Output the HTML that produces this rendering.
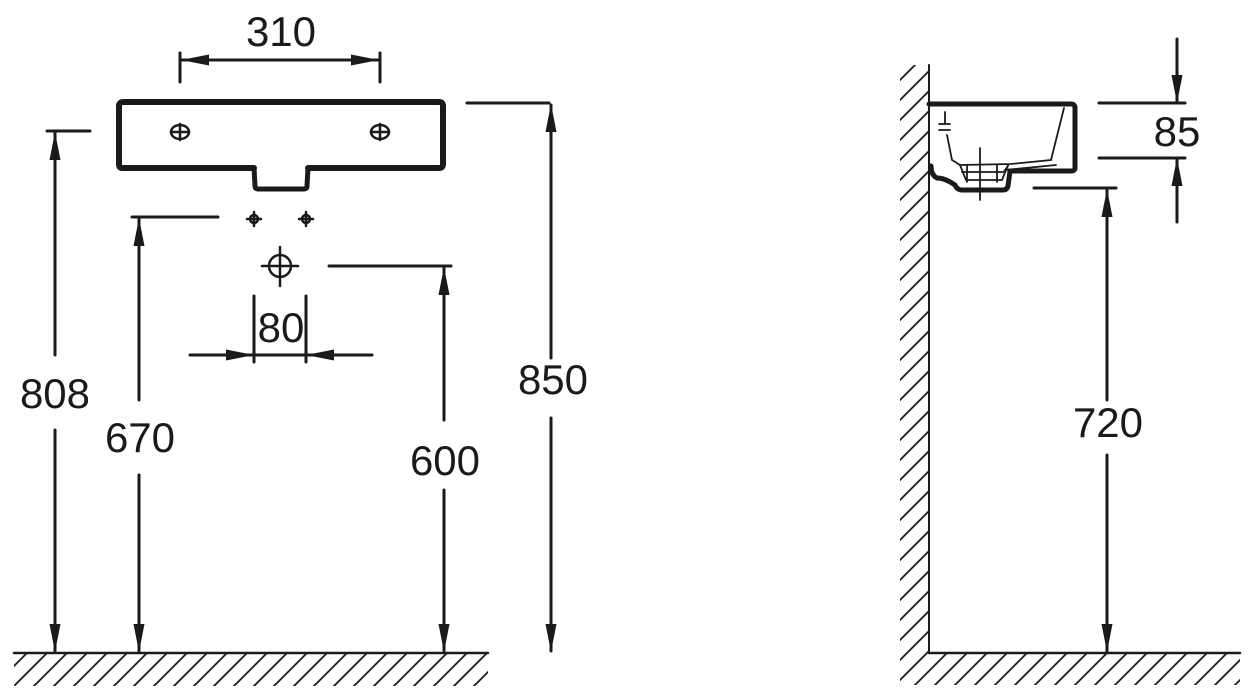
<!DOCTYPE html>
<html><head><meta charset="utf-8"><style>html,body{margin:0;padding:0;background:#fff}svg{display:block}</style></head>
<body>
<svg width="1252" height="699" viewBox="0 0 1252 699" xmlns="http://www.w3.org/2000/svg">
<defs>
<marker id="a" markerWidth="28" markerHeight="11" refX="27" refY="5.5" orient="auto-start-reverse" markerUnits="userSpaceOnUse" viewBox="0 0 28 11"><path d="M0,0 L28,5.5 L0,11 z" fill="#1a1a1a"/></marker>
<pattern id="h" width="20" height="20" patternUnits="userSpaceOnUse"><path d="M-5,25 L25,-5 M-15,15 L15,-15 M5,35 L35,5" stroke="#1a1a1a" stroke-width="1.8"/></pattern>
</defs>
<g stroke="#1a1a1a" fill="none" stroke-linecap="round">
<rect x="14" y="654" width="474" height="32" fill="url(#h)" stroke="none"/>
<line x1="14" y1="653" x2="488" y2="653" stroke-width="2.5"/>
<rect x="900" y="65" width="28" height="620" fill="url(#h)" stroke="none"/>
<rect x="928" y="654" width="312" height="31" fill="url(#h)" stroke="none"/>
<line x1="929" y1="65" x2="929" y2="653" stroke-width="2"/>
<line x1="929" y1="653" x2="1240" y2="653" stroke-width="2.5"/>
<path d="M254,168 L122,168 Q119,168 119,164 L119,106 Q119,102 124,102 L439,102 Q443,102 443,106 L443,164 Q443,168 439,168 L308,168" stroke-width="6"/>
<path d="M254,168 L255,186 Q255,189 258,189 L304,189 Q307,189 307,186 L308,168" stroke-width="5"/>
<g stroke-width="2.5">
<ellipse cx="180" cy="132" rx="9" ry="7"/><line x1="171" y1="132" x2="189" y2="132"/><line x1="180" y1="124" x2="180" y2="140"/>
<ellipse cx="380" cy="132" rx="9" ry="7"/><line x1="371" y1="132" x2="389" y2="132"/><line x1="380" y1="124" x2="380" y2="140"/>
<circle cx="254" cy="219" r="4"/><line x1="247" y1="219" x2="261" y2="219"/><line x1="254" y1="212" x2="254" y2="226"/>
<circle cx="306" cy="219" r="4"/><line x1="299" y1="219" x2="313" y2="219"/><line x1="306" y1="212" x2="306" y2="226"/>
<circle cx="280" cy="266" r="11"/><line x1="262" y1="266" x2="298" y2="266"/><line x1="280" y1="247" x2="280" y2="286"/>
</g>
<g stroke-width="3">
<line x1="180" y1="53" x2="180" y2="82"/><line x1="380" y1="53" x2="380" y2="82"/>
<line x1="182" y1="60" x2="378" y2="60" marker-end="url(#a)" marker-start="url(#a)"/>
<line x1="47" y1="131" x2="90" y2="131"/>
<line x1="55" y1="355" x2="55" y2="133" marker-end="url(#a)"/>
<line x1="55" y1="430" x2="55" y2="651" marker-end="url(#a)"/>
<line x1="132" y1="217" x2="218" y2="217"/>
<line x1="139" y1="400" x2="139" y2="219" marker-end="url(#a)"/>
<line x1="139" y1="475" x2="139" y2="651" marker-end="url(#a)"/>
<line x1="329" y1="266" x2="451" y2="266"/>
<line x1="444" y1="420" x2="444" y2="268" marker-end="url(#a)"/>
<line x1="444" y1="490" x2="444" y2="651" marker-end="url(#a)"/>
<line x1="467" y1="103" x2="549" y2="103"/>
<line x1="551" y1="358" x2="551" y2="105" marker-end="url(#a)"/>
<line x1="551" y1="418" x2="551" y2="651" marker-end="url(#a)"/>
<line x1="254" y1="296" x2="254" y2="362"/><line x1="306" y1="296" x2="306" y2="362"/>
<line x1="190" y1="355" x2="253" y2="355" marker-end="url(#a)"/>
<line x1="372" y1="355" x2="307" y2="355" marker-end="url(#a)"/>
<line x1="254" y1="355" x2="306" y2="355"/>
<line x1="1099" y1="103" x2="1185" y2="103"/>
<line x1="1099" y1="158" x2="1185" y2="158"/>
<line x1="1177" y1="39" x2="1177" y2="102" marker-end="url(#a)"/>
<line x1="1177" y1="222" x2="1177" y2="159" marker-end="url(#a)"/>
<line x1="1034" y1="188" x2="1116" y2="188"/>
<line x1="1107" y1="400" x2="1107" y2="190" marker-end="url(#a)"/>
<line x1="1107" y1="455" x2="1107" y2="651" marker-end="url(#a)"/>
</g>
<path d="M929,104 L1071,104 Q1075,104 1075,108 L1075,168 Q1075,171 1071,171 L1010,171 L1008,186 Q1007,190 1003,190 L962,190 Q957,190 955,185 Q945,178 937,178 Q931,175 931,166" stroke-width="5"/>
<g stroke-width="1.8">
<path d="M947,135 L952,160 L960,165 L1011,164 L1051,160 L1064,108"/>
<path d="M960,165 L966,180 L1002,180 L1008,165"/>
<path d="M1008,166 L1005,170 L1056,165"/>
<line x1="980" y1="148" x2="980" y2="200"/>
<line x1="962" y1="172" x2="1004" y2="172"/>
<line x1="967" y1="165" x2="967" y2="182"/><line x1="997" y1="165" x2="997" y2="182"/>
<line x1="939" y1="124" x2="950" y2="124"/><line x1="939" y1="130" x2="950" y2="130"/>
<line x1="945" y1="112" x2="945" y2="124"/>
</g>
</g>
<g font-family="Liberation Sans, sans-serif" font-size="42" fill="#1a1a1a" text-anchor="middle">
<text x="281" y="46">310</text>
<text x="55" y="408">808</text>
<text x="140" y="452">670</text>
<text x="445" y="475">600</text>
<text x="553" y="394">850</text>
<text x="281" y="342">80</text>
<text x="1177" y="146">85</text>
<text x="1108" y="437">720</text>
</g>
</svg>
</body></html>
